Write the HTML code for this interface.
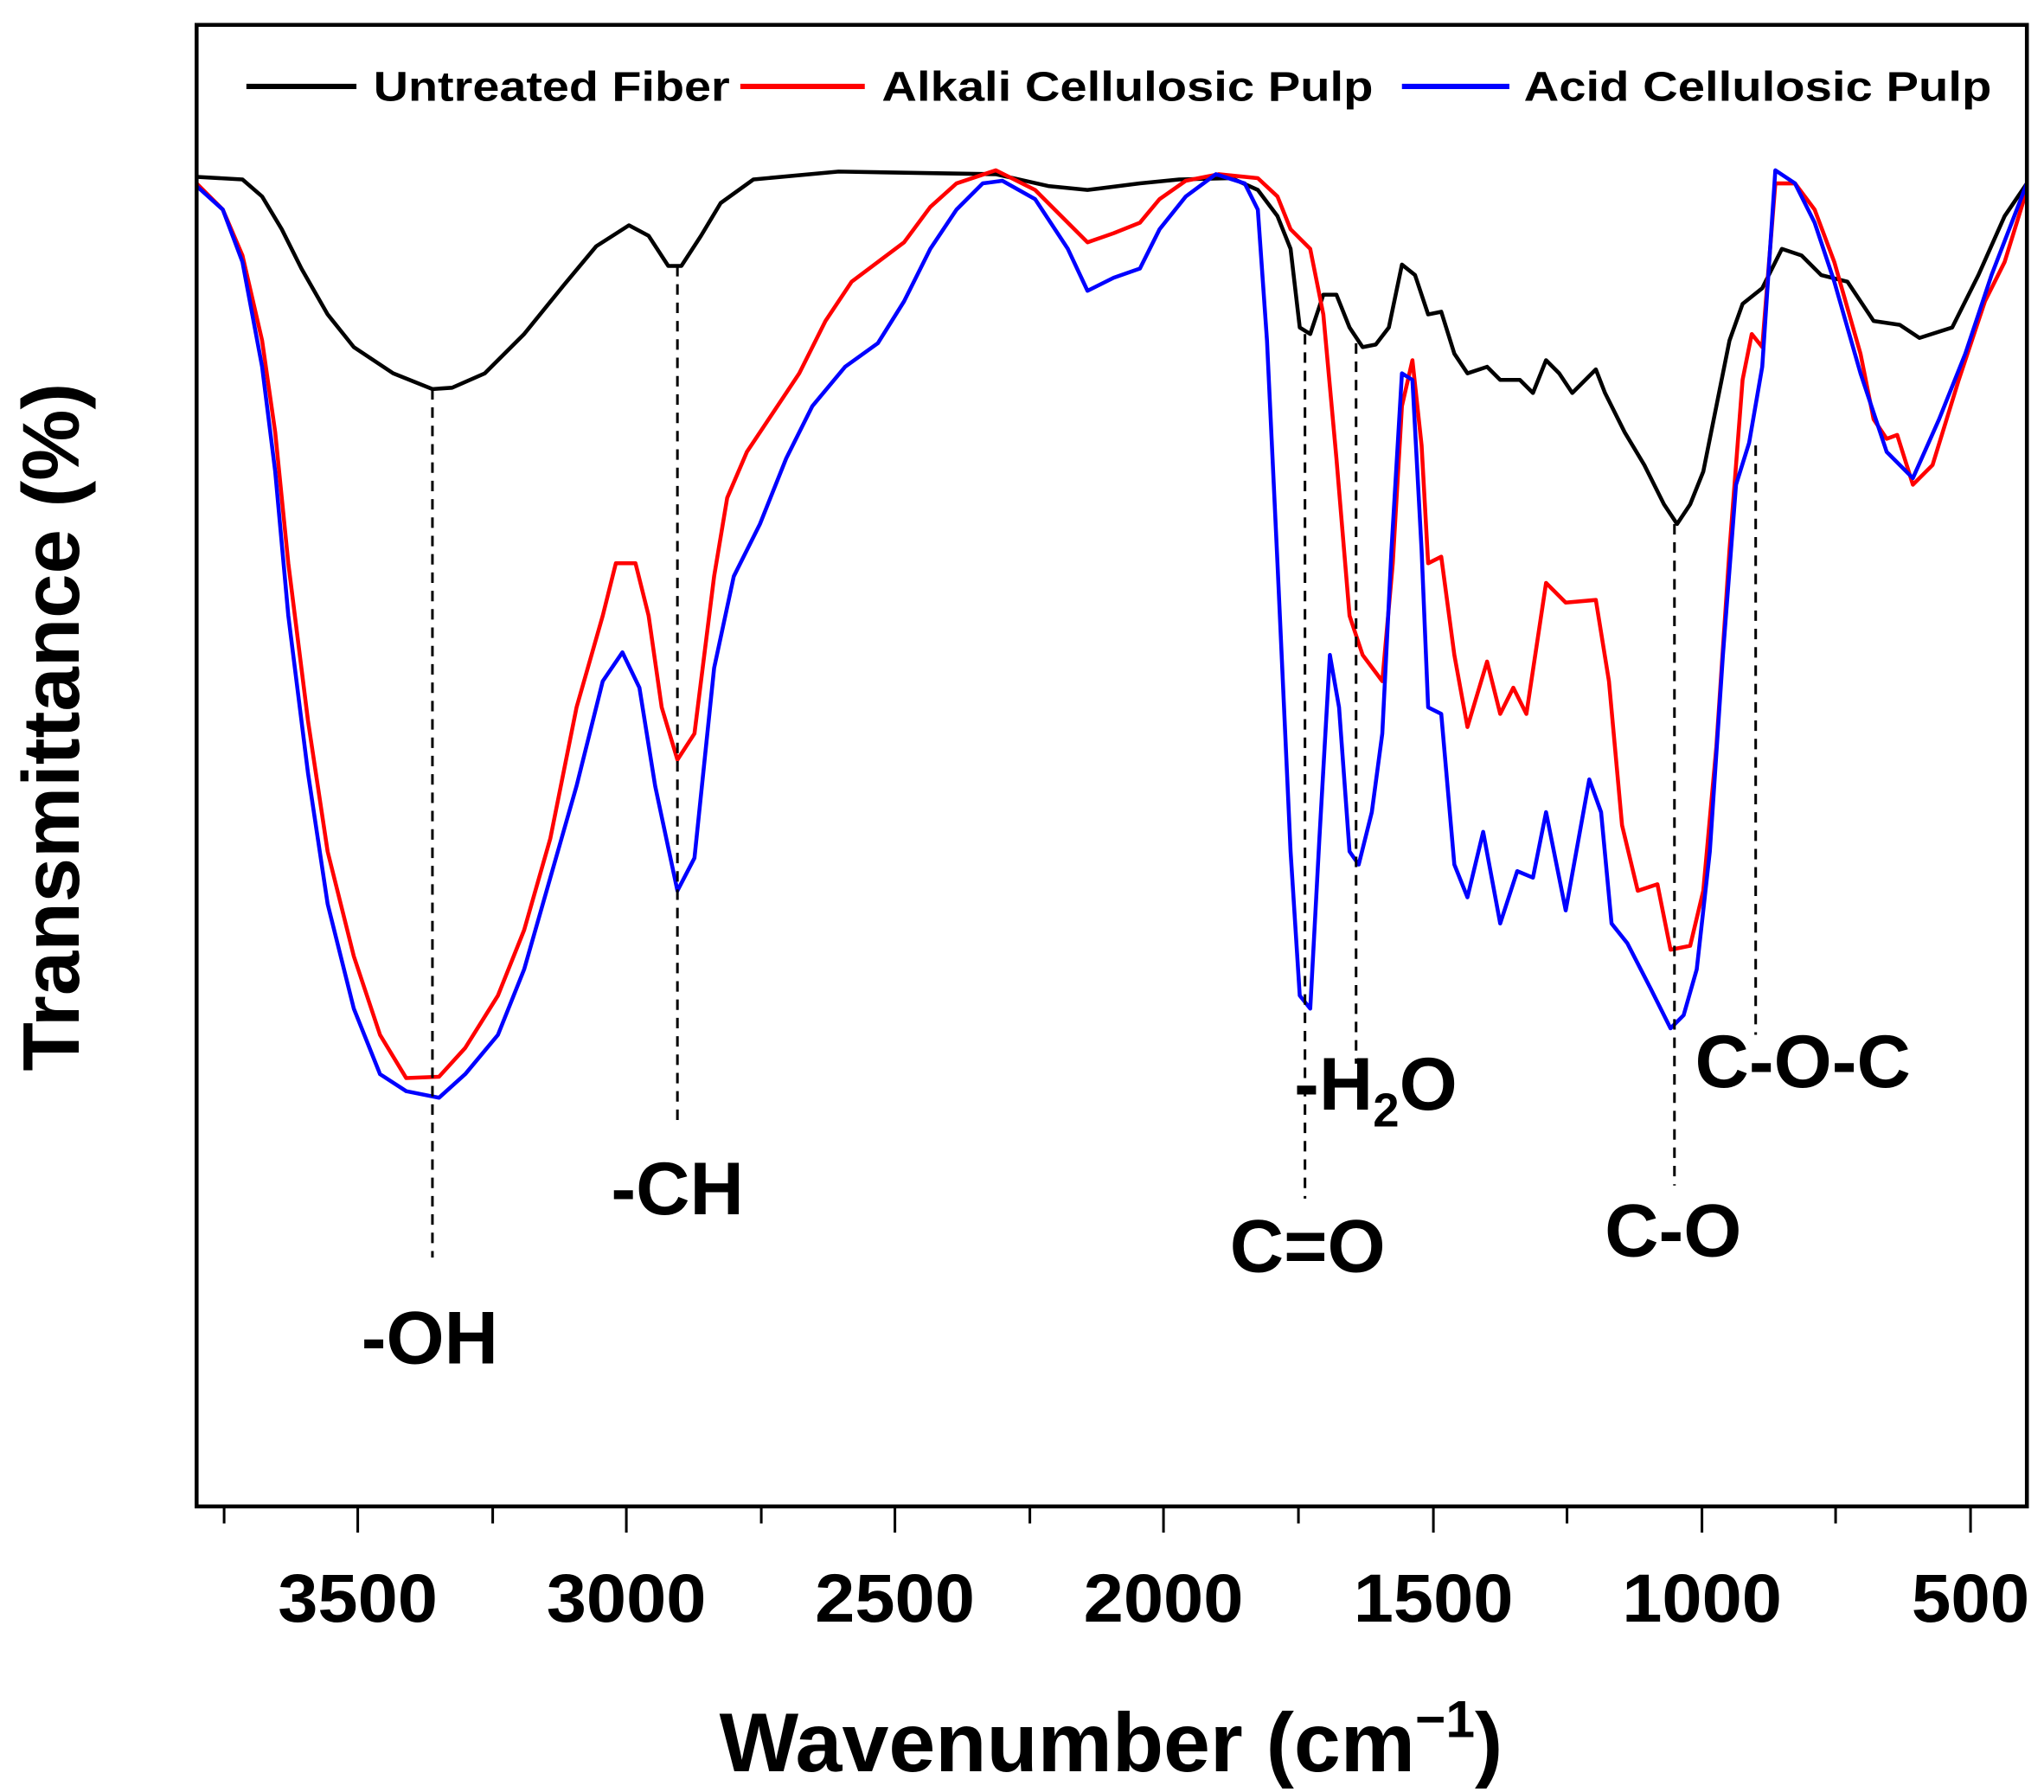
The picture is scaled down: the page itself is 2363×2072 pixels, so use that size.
<!DOCTYPE html>
<html><head><meta charset="utf-8"><style>html,body{margin:0;padding:0;background:#fff}svg{display:block}</style></head>
<body>
<svg width="2363" height="2072" viewBox="0 0 1560 1368" xmlns="http://www.w3.org/2000/svg" font-family="Liberation Sans, Arial, sans-serif" font-weight="bold">
<rect x="0" y="0" width="1560" height="1368" fill="#fff"/>
<g fill="none" stroke-linejoin="round">
<polyline stroke="#000" stroke-width="3" points="150,135 185,137 200,150 215,175 230,205 250,240 270,265 300,285 330,297 345,296 370,285 400,255 430,218 455,188 480,172 495,180 510,203 520,203 535,180 550,155 575,137 640,131 700,132 760,133 800,142 830,145 870,140 900,137 940,136 960,145 975,165 985,190 992,250 1000,255 1010,225 1020,225 1030,250 1040,265 1050,263 1060,250 1070,202 1080,210 1090,240 1100,238 1110,270 1120,285 1135,280 1145,290 1160,290 1170,300 1180,275 1190,285 1200,300 1218,282 1225,300 1240,330 1255,355 1270,385 1280,400 1290,385 1300,360 1310,310 1320,260 1330,232 1345,220 1360,190 1375,195 1390,210 1410,215 1430,245 1450,248 1465,258 1490,250 1510,210 1530,165 1547,140"/>
<polyline stroke="#ff0000" stroke-width="3" points="150,140 170,160 185,195 200,260 210,330 220,430 235,550 250,650 270,730 290,790 310,823 335,822 355,800 380,760 400,710 420,640 440,540 460,470 470,430 485,430 495,470 505,540 517,580 530,560 545,440 555,380 570,345 590,315 610,285 630,245 650,215 670,200 690,185 710,158 730,140 760,130 790,145 815,170 830,185 850,178 870,170 885,152 905,138 930,133 960,136 975,150 985,175 1000,190 1010,240 1020,350 1030,470 1040,500 1055,520 1063,430 1070,310 1078,275 1085,340 1090,430 1100,425 1110,500 1120,555 1135,505 1145,545 1155,525 1165,545 1180,445 1195,460 1218,458 1228,520 1238,630 1250,680 1265,675 1275,725 1290,722 1300,680 1310,570 1320,420 1330,290 1337,255 1345,265 1355,140 1370,140 1385,160 1400,200 1420,270 1430,320 1440,335 1448,332 1460,370 1475,355 1495,290 1515,230 1530,200 1547,145"/>
<polyline stroke="#0000ff" stroke-width="3" points="150,142 170,160 185,200 200,280 210,360 220,470 235,590 250,690 270,770 290,820 310,833 335,838 355,820 380,790 400,740 420,670 440,600 460,520 475,498 488,525 500,600 517,680 530,655 545,510 560,440 580,400 600,350 620,310 645,280 670,262 690,230 710,190 730,160 750,140 765,138 790,152 815,190 830,222 850,212 870,205 885,175 905,150 928,133 950,140 960,160 967,260 975,430 985,650 992,760 1000,770 1007,640 1015,500 1022,540 1030,650 1037,660 1047,620 1055,560 1062,420 1070,285 1078,290 1085,420 1090,540 1100,545 1110,660 1120,685 1132,635 1145,705 1158,665 1170,670 1180,620 1195,695 1213,595 1222,620 1230,705 1242,720 1260,755 1275,785 1285,775 1295,740 1305,650 1315,500 1325,370 1335,338 1345,280 1355,130 1370,140 1385,170 1400,215 1420,285 1440,345 1460,365 1480,320 1500,270 1520,210 1547,140"/>
</g>
<g stroke="#000" stroke-width="2" stroke-dasharray="8,6">
<line x1="330" y1="297" x2="330" y2="960"/>
<line x1="517" y1="203" x2="517" y2="860"/>
<line x1="996" y1="255" x2="996" y2="915"/>
<line x1="1035" y1="262" x2="1035" y2="812"/>
<line x1="1278" y1="400" x2="1278" y2="905"/>
<line x1="1340" y1="340" x2="1340" y2="790"/>
</g>
<rect x="150" y="19" width="1397" height="1131" fill="none" stroke="#000" stroke-width="3"/>
<g stroke="#000" stroke-width="2">
<line x1="171" y1="1150" x2="171" y2="1163"/><line x1="273" y1="1150" x2="273" y2="1170"/>
<line x1="376" y1="1150" x2="376" y2="1163"/><line x1="478" y1="1150" x2="478" y2="1170"/>
<line x1="581" y1="1150" x2="581" y2="1163"/><line x1="683" y1="1150" x2="683" y2="1170"/>
<line x1="786" y1="1150" x2="786" y2="1163"/><line x1="888" y1="1150" x2="888" y2="1170"/>
<line x1="991" y1="1150" x2="991" y2="1163"/><line x1="1094" y1="1150" x2="1094" y2="1170"/>
<line x1="1196" y1="1150" x2="1196" y2="1163"/><line x1="1299" y1="1150" x2="1299" y2="1170"/>
<line x1="1401" y1="1150" x2="1401" y2="1163"/><line x1="1504" y1="1150" x2="1504" y2="1170"/>
</g>
<g font-size="52" text-anchor="middle" fill="#000">
<text x="273" y="1238" textLength="122" lengthAdjust="spacingAndGlyphs">3500</text><text x="478" y="1238" textLength="122" lengthAdjust="spacingAndGlyphs">3000</text><text x="683" y="1238" textLength="122" lengthAdjust="spacingAndGlyphs">2500</text>
<text x="888" y="1238" textLength="122" lengthAdjust="spacingAndGlyphs">2000</text><text x="1094" y="1238" textLength="122" lengthAdjust="spacingAndGlyphs">1500</text><text x="1299" y="1238" textLength="122" lengthAdjust="spacingAndGlyphs">1000</text><text x="1504" y="1238" textLength="90" lengthAdjust="spacingAndGlyphs">500</text>
</g>
<text x="848" y="1352" font-size="64" text-anchor="middle">Wavenumber (cm<tspan dy="-26" font-size="40">−1</tspan><tspan dy="26">)</tspan></text>
<text transform="translate(60,555) rotate(-90)" font-size="61" text-anchor="middle">Transmittance (%)</text>
<g stroke-width="4">
<line x1="188" y1="66" x2="272" y2="66" stroke="#000"/>
<line x1="565" y1="66" x2="660" y2="66" stroke="#ff0000"/>
<line x1="1070" y1="66" x2="1152" y2="66" stroke="#0000ff"/>
</g>
<g font-size="32" fill="#000">
<text x="285" y="77" textLength="272" lengthAdjust="spacingAndGlyphs">Untreated Fiber</text>
<text x="673" y="77" textLength="375" lengthAdjust="spacingAndGlyphs">Alkali Cellulosic Pulp</text>
<text x="1163" y="77" textLength="357" lengthAdjust="spacingAndGlyphs">Acid Cellulosic Pulp</text>
</g>
<g font-size="57" fill="#000" text-anchor="middle">
<text x="328" y="1041">-OH</text>
<text x="517" y="927">-CH</text>
<text x="998" y="971">C=O</text>
<text x="1277" y="959">C-O</text>
<text x="1376" y="830">C-O-C</text>
<text x="1050" y="847">-H<tspan font-size="36" dy="13">2</tspan><tspan dy="-13">O</tspan></text>
</g>
</svg>
</body></html>
